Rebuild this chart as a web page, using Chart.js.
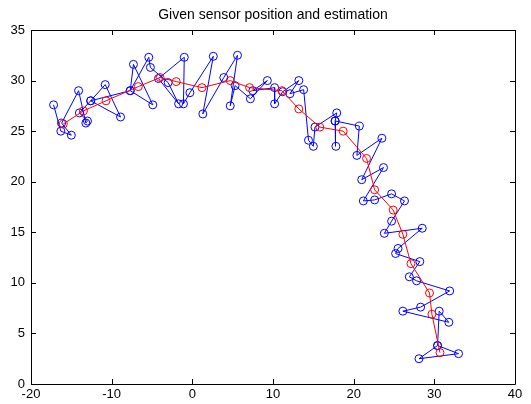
<!DOCTYPE html>
<html>
<head>
<meta charset="utf-8">
<script src="https://cdn.jsdelivr.net/npm/chart.js@4.4.1/dist/chart.umd.min.js"></script>
<style>
  html, body { margin: 0; padding: 0; background: #fff; }
  #wrap { width: 531px; height: 404px; }
</style>
</head>
<body>
<div id="wrap"><canvas id="plot"></canvas></div>
<script>
const titleText = "Given sensor position and estimation";

// given sensor positions (blue), in drawing order
const sensorX = [-17.2, -16.3, -15.0, -16.2, -14.1, -13.2, -13.0, -14.0, -12.6, -10.8, -8.9, -12.6,
  -7.7, -7.3, -4.9, -7.7, -5.4, -5.2, -3.0, -1.7, -4.2, -1.0, -1.1, -0.3, 2.6, 1.3, 3.9, 5.6, 4.7,
  5.3, 7.2, 9.3, 7.5, 10.2, 10.2, 11.2, 13.2, 12.1, 13.8, 14.4, 15.0, 15.2, 17.9, 17.7, 17.8, 17.7,
  20.7, 20.4, 23.5, 21.0, 23.7, 21.2, 22.6, 24.7, 26.3, 24.7, 23.8, 28.5, 25.5, 25.2, 28.2, 26.9,
  27.8, 31.9, 28.3, 26.1, 31.8, 30.6, 30.4, 28.1, 33.0, 30.4];
const sensorY = [27.6, 25.0, 24.6, 25.8, 29.0, 25.8, 26.0, 26.8, 28.0, 29.6, 26.4, 28.0,
  29.0, 31.6, 27.6, 29.0, 32.3, 31.3, 29.8, 27.7, 30.2, 32.3, 27.7, 28.8, 32.4, 26.7, 30.3, 32.5, 27.5,
  29.5, 28.2, 30.0, 29.0, 29.3, 27.7, 28.9, 30.0, 28.7, 29.1, 24.1, 23.5, 25.4, 26.8, 26.0, 23.5, 26.0,
  25.5, 22.6, 24.3, 20.2, 21.4, 18.1, 18.2, 18.8, 18.1, 16.1, 14.9, 15.4, 13.4, 12.9, 12.1, 10.6,
  10.2, 9.2, 7.6, 7.2, 6.1, 7.2, 3.8, 2.5, 3.0, 3.8];

// estimated positions (red)
const estX = [-16.0, -13.5, -10.7, -6.7, -4.0, -2.0, 1.2, 4.7, 7.1, 11.1, 13.2, 15.8, 18.7,
  21.6, 22.6, 24.9, 26.1, 27.1, 29.4, 29.7, 30.7];
const estY = [25.7, 27.0, 28.0, 29.4, 30.3, 29.9, 29.3, 30.0, 29.3, 29.0, 27.2, 25.4, 25.0,
  22.3, 19.2, 17.2, 14.8, 11.9, 9.0, 6.9, 3.1];

const xTicks = [-20, -10, 0, 10, 20, 30, 40];
const yTicks = [0, 5, 10, 15, 20, 25, 30, 35];

const toPoints = (xs, ys) => xs.map((x, i) => ({x: x, y: ys[i]}));

// MATLAB style box with inward ticks, title centred over the axes
const boxTicks = {
    id: "boxTicks",
    afterLayout(chart) {
        const t = chart.titleBlock;
        if (t) {
            t.left = chart.chartArea.left;
            t.right = chart.chartArea.right;
        }
    },
    afterDraw(chart) {
        const {ctx, chartArea: a, scales} = chart;
        ctx.save();
        ctx.strokeStyle = "#000";
        ctx.lineWidth = 1;
        ctx.beginPath();
        ctx.rect(Math.round(a.left) + 0.5, Math.round(a.top) + 0.5,
                 Math.round(a.right - a.left), Math.round(a.bottom - a.top));
        const len = 5;
        xTicks.forEach(v => {
            const px = Math.round(scales.x.getPixelForValue(v)) + 0.5;
            ctx.moveTo(px, a.bottom); ctx.lineTo(px, a.bottom - len);
            ctx.moveTo(px, a.top); ctx.lineTo(px, a.top + len);
        });
        yTicks.forEach(v => {
            const py = Math.round(scales.y.getPixelForValue(v)) + 0.5;
            ctx.moveTo(a.left, py); ctx.lineTo(a.left + len, py);
            ctx.moveTo(a.right, py); ctx.lineTo(a.right - len, py);
        });
        ctx.stroke();
        ctx.restore();
    }
};

new Chart("plot", {
    type: "scatter",
    data: {
        datasets: [
            {
                data: toPoints(estX, estY),
                showLine: true,
                borderColor: "rgb(255,0,0)",
                borderWidth: 1,
                pointStyle: "circle",
                pointRadius: 4,
                pointBorderWidth: 1,
                pointBorderColor: "rgb(255,0,0)",
                pointBackgroundColor: "rgba(0,0,0,0)",
                tension: 0,
            },
            {
                data: toPoints(sensorX, sensorY),
                showLine: true,
                borderColor: "rgb(0,0,255)",
                borderWidth: 1,
                pointStyle: "circle",
                pointRadius: 4,
                pointBorderWidth: 1,
                pointBorderColor: "rgb(0,0,255)",
                pointBackgroundColor: "rgba(0,0,0,0)",
                tension: 0,
            },
        ],
    },
    options: {
        responsive: true,
        maintainAspectRatio: false,
        animation: false,
        layout: { padding: { left: 0, right: 16, top: 0, bottom: 0 } },
        plugins: {
            legend: { display: false },
            tooltip: { enabled: false },
            title: {
                display: true,
                text: titleText,
                color: "#000",
                font: { family: "'Liberation Sans', Arial, sans-serif", size: 14, weight: "normal" },
                padding: { top: 6.6, bottom: 6.6 },
            },
        },
        scales: {
            x: {
                type: "linear",
                min: -20, max: 40,
                afterBuildTicks: s => { s.ticks = xTicks.map(v => ({value: v})); },
                afterFit: s => { s.height = 20; },
                grid: { display: false, drawTicks: false },
                border: { display: false },
                ticks: {
                    color: "#000",
                    padding: 3,
                    maxRotation: 0,
                    font: { family: "'Liberation Sans', Arial, sans-serif", size: 13 },
                },
            },
            y: {
                type: "linear",
                min: 0, max: 35,
                afterBuildTicks: s => { s.ticks = yTicks.map(v => ({value: v})); },
                afterFit: s => { s.width = 31; },
                grid: { display: false, drawTicks: false },
                border: { display: false },
                ticks: {
                    color: "#000",
                    padding: 6,
                    font: { family: "'Liberation Sans', Arial, sans-serif", size: 13 },
                },
            },
        },
    },
    plugins: [boxTicks],
});
</script>
</body>
</html>
